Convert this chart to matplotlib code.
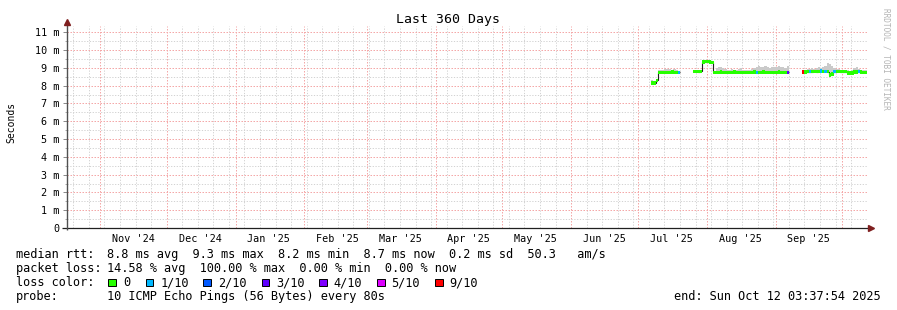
import numpy as np
import matplotlib
matplotlib.use("Agg")
import matplotlib.pyplot as plt
import matplotlib.dates as mdates
from matplotlib.patches import Rectangle
from matplotlib.ticker import MultipleLocator
from datetime import datetime, timedelta

# ---------------- data ----------------
title = "Last 360 Days"
y_label = "Seconds"
end_time = datetime(2025, 10, 12, 3, 37, 54)
span_days = 360

# segment A: Jul 7 - Jul 19 2025 (daily, ms)
seg_a_start = "2025-07-07"
seg_a_median = [8.15, 8.15, 8.30, 8.75, 8.76, 8.76, 8.75, 8.76, 8.76, 8.77, 8.76, 8.76, 8.76]
seg_a_smoke_hi = [8.30, 8.28, 8.35, 8.88, 8.90, 8.90, 8.95, 8.95, 8.95, 8.90, 8.92, 8.90, 8.85]
seg_a_smoke_lo = [8.10, 8.12, 8.25, 8.70, 8.72, 8.72, 8.72, 8.72, 8.72, 8.72, 8.72, 8.72, 8.72]
seg_a_loss = [0, 0, 0, 0, 0, 0, 0, 0, 0, 0, 0, 0, 1]

# segment B: Jul 26 - Sep 6 2025
seg_b_start = "2025-07-26"
seg_b_median = [8.80, 8.80, 8.79, 8.80,
                9.33, 9.35, 9.34, 9.33, 9.32,
                8.75, 8.76, 8.76, 8.77, 8.76, 8.76, 8.75,
                8.76, 8.76, 8.77, 8.76, 8.75, 8.76, 8.76,
                8.76, 8.75, 8.76, 8.76, 8.77, 8.76, 8.76,
                8.76, 8.77, 8.76, 8.76, 8.75, 8.76, 8.76,
                8.76, 8.77, 8.76, 8.76, 8.75, 8.76]
seg_b_smoke_hi = [8.85, 8.85, 8.84, 8.85,
                  9.40, 9.40, 9.38, 9.38, 9.36,
                  8.85, 9.00, 9.05, 9.05, 9.00, 8.95, 8.90,
                  8.90, 8.95, 8.90, 8.90, 8.95, 9.00, 8.90,
                  8.90, 8.90, 8.90, 8.95, 9.00, 9.05, 9.10,
                  9.05, 9.05, 9.10, 9.05, 9.00, 9.05, 9.05,
                  9.05, 9.10, 9.05, 9.05, 9.00, 9.10]
seg_b_smoke_lo = [8.76, 8.76, 8.75, 8.76,
                  9.28, 9.30, 9.30, 9.29, 9.28,
                  8.65, 8.66, 8.66, 8.68, 8.70, 8.71, 8.70,
                  8.71, 8.71, 8.72, 8.71, 8.70, 8.71, 8.71,
                  8.71, 8.70, 8.71, 8.71, 8.72, 8.71, 8.71,
                  8.71, 8.72, 8.71, 8.71, 8.70, 8.71, 8.71,
                  8.71, 8.72, 8.71, 8.71, 8.70, 8.71]
seg_b_loss = [0] * 28 + [1] + [0] * 13 + [3]

# segment C: Sep 13 - Oct 11 2025
seg_c_start = "2025-09-13"
seg_c_median = [8.77, 8.77, 8.78, 8.78, 8.79, 8.80, 8.78,
                8.80, 8.82, 8.81, 8.80, 8.78, 8.60, 8.66,
                8.78, 8.80, 8.80, 8.79, 8.78, 8.78, 8.72,
                8.71, 8.72, 8.77, 8.77, 8.78, 8.77, 8.76,
                8.76]
seg_c_smoke_hi = [8.90, 8.90, 8.95, 8.95, 9.00, 8.95, 9.00,
                  9.05, 9.00, 9.05, 9.10, 9.25, 9.20, 9.10,
                  9.00, 8.95, 8.95, 8.90, 8.90, 8.90, 8.90,
                  8.85, 8.90, 9.00, 9.05, 8.95, 8.90, 8.90,
                  8.88]
seg_c_smoke_lo = [8.72, 8.72, 8.73, 8.73, 8.74, 8.75, 8.73,
                  8.75, 8.77, 8.76, 8.75, 8.70, 8.52, 8.58,
                  8.73, 8.75, 8.75, 8.74, 8.73, 8.73, 8.67,
                  8.66, 8.67, 8.72, 8.72, 8.73, 8.72, 8.71,
                  8.71]
seg_c_loss = [9, 0, 0, 1, 0, 0, 0, 0, 1, 0, 1, 0, 0, 0, 1, 0, 0, 0, 0, 0, 0,
              0, 0, 0, 0, 1, 0, 0, 0]

# loss colour legend
loss_labels = ["0", "1/10", "2/10", "3/10", "4/10", "5/10", "9/10"]
loss_colors = ["#26ff00", "#00b8ff", "#0059ff", "#5e00ff", "#7e00ff", "#dd00ff", "#ff0000"]
loss_thresholds = [0, 1, 2, 3, 4, 5, 9]

# legend texts
rtt_stats = ["8.8 ms avg", "9.3 ms max", "8.2 ms min", "8.7 ms now", "0.2 ms sd", "50.3   am/s"]
loss_stats = ["14.58 % avg", "100.00 % max", "0.00 % min", "0.00 % now"]
probe_text = "10 ICMP Echo Pings (56 Bytes) every 80s"
end_text = "end: Sun Oct 12 03:37:54 2025"
watermark = "RRDTOOL / TOBI OETIKER"

# ---------------- layout ----------------
W, H = 897, 310
L, R, T, B = 67, 867, 26, 228
PX_PER_MS = 17.79
MONO = "DejaVu Sans Mono"

fig = plt.figure(figsize=(W / 100, H / 100), dpi=100)
fig.patch.set_facecolor("white")
ax = fig.add_axes([L / W, 1 - B / H, (R - L) / W, (B - T) / H])
ax.set_facecolor("white")

start_time = end_time - timedelta(days=span_days)
x0 = mdates.date2num(start_time)
x1 = mdates.date2num(end_time)
ax.set_xlim(x0, x1)
ax.set_ylim(0, (B - T) / PX_PER_MS)

# grid: month starts (major), weekly Sundays (minor)
month_starts = []
y, m = 2024, 11
while datetime(y, m, 1) < end_time:
    month_starts.append(datetime(y, m, 1))
    m += 1
    if m > 12:
        m, y = 1, y + 1
weeks = []
d = datetime(2024, 10, 20)
while d < end_time:
    weeks.append(d)
    d += timedelta(days=7)

ax.set_xticks(mdates.date2num(month_starts))
ax.set_xticks(mdates.date2num(weeks), minor=True)
ax.set_yticks(range(12))
ax.set_yticklabels(["0"] + [f"{i} m" for i in range(1, 12)])
ax.yaxis.set_minor_locator(MultipleLocator(0.5))

pink = "#f4a8a8"
grey = "#d2d2d2"
ax.grid(which="major", color=pink, linestyle=(0, (1.5, 1.5)), linewidth=0.72)
ax.grid(which="minor", color=grey, linestyle=(0, (1.2, 1.6)), linewidth=0.72)
ax.set_axisbelow(True)

ax.tick_params(axis="x", which="both", length=0, labelbottom=False)
ax.tick_params(axis="y", which="major", length=3.2, width=0.7, color="#888888",
               pad=2.0, labelsize=7.3, labelcolor="black")
ax.tick_params(axis="y", which="minor", length=1.6, width=0.7, color="#aaaaaa")
for lbl in ax.get_yticklabels():
    lbl.set_family(MONO)

for sp in ax.spines.values():
    sp.set_visible(False)

# month labels centred mid-month
for ms in month_starts:
    mid = ms + timedelta(days=15)
    if mdates.date2num(mid) < x1:
        ax.text(mdates.date2num(mid), (B - 238.5) / (B - T), ms.strftime("%b '%y"),
                transform=ax.get_xaxis_transform(), ha="center", va="center",
                family=MONO, fontsize=7.3, color="black")

# ---------------- data drawing ----------------
band = 1.65 / PX_PER_MS


def color_for(loss):
    idx = 0
    for i, t in enumerate(loss_thresholds):
        if loss >= t:
            idx = i
    return loss_colors[idx]


segments = [
    (seg_a_start, seg_a_median, seg_a_smoke_lo, seg_a_smoke_hi, seg_a_loss),
    (seg_b_start, seg_b_median, seg_b_smoke_lo, seg_b_smoke_hi, seg_b_loss),
    (seg_c_start, seg_c_median, seg_c_smoke_lo, seg_c_smoke_hi, seg_c_loss),
]
for start, med, lo, hi, loss in segments:
    s = mdates.date2num(datetime.strptime(start, "%Y-%m-%d"))
    n = len(med)
    edges = s + np.arange(n + 1)
    edges[-1] = min(edges[-1], x1)
    med = np.array(med)
    lo_e = np.append(lo, lo[-1])
    hi_e = np.append(hi, hi[-1])
    ax.fill_between(edges, lo_e, hi_e, step="post", color="#cacaca", lw=0, zorder=2)
    ax.stairs(med, edges, baseline=None, color="#202020", lw=0.8, zorder=3)
    cols = [color_for(v) for v in loss]
    ax.bar(edges[:-1], 2 * band, bottom=med - band, width=1.12, align="edge",
           color=cols, linewidth=0, zorder=4)

# ---------------- axes lines & arrows ----------------
aw = R - L
ah = B - T
arrow_c = "#7f1f1f"
ax.plot([(62 - L) / aw, (870 - L) / aw], [0, 0], color="#202020", lw=0.9,
        transform=ax.transAxes, clip_on=False, zorder=6, solid_capstyle="butt")
ax.plot([0, 0], [-2 / ah, (B - 23) / ah], color="#505050", lw=1.0,
        transform=ax.transAxes, clip_on=False, zorder=6, solid_capstyle="butt")
ax.plot([0], [(B - 21.5) / ah], marker="^", ms=4.6, color=arrow_c, mec=arrow_c,
        transform=ax.transAxes, clip_on=False, zorder=7)
ax.plot([(871 - L) / aw], [0], marker=">", ms=4.6, color=arrow_c, mec=arrow_c,
        transform=ax.transAxes, clip_on=False, zorder=7)


# ---------------- texts ----------------
def ftext(x, y, s, **kw):
    kw.setdefault("family", MONO)
    kw.setdefault("fontsize", 8.6)
    kw.setdefault("va", "center")
    kw.setdefault("color", "black")
    fig.text(x / W, 1 - y / H, s, **kw)


ftext(447.5, 19, title, ha="center", fontsize=9.5)
ftext(11, 122.5, y_label, ha="center", rotation=90, fontsize=7.0)
ftext(886, 59, watermark, ha="center", rotation=270, fontsize=5.6, color="#b4b4b4")

row_y = [254.5, 268.5, 282.5, 296.5]
VX = 106.8
ftext(15.5, row_y[0], "median rtt:")
ftext(VX, row_y[0], "  ".join(rtt_stats))
ftext(15.5, row_y[1], "packet loss:")
ftext(VX, row_y[1], "  ".join(loss_stats))
ftext(15.5, row_y[2], "loss color:")
sq_x = [108.3, 145.7, 203.3, 261.7, 319.3, 377.0, 435.0]
for sx, lab, col in zip(sq_x, loss_labels, loss_colors):
    fig.add_artist(Rectangle((sx / W, 1 - 286.0 / H), 7.5 / W, 7.5 / H,
                             transform=fig.transFigure, facecolor=col,
                             edgecolor="black", linewidth=0.7))
    ftext(sx + 14.5, row_y[2], lab)
ftext(15.5, row_y[3], "probe:")
ftext(VX, row_y[3], probe_text)
ftext(881, row_y[3], end_text, ha="right")

fig.savefig("out.png", dpi=100, facecolor="white")
